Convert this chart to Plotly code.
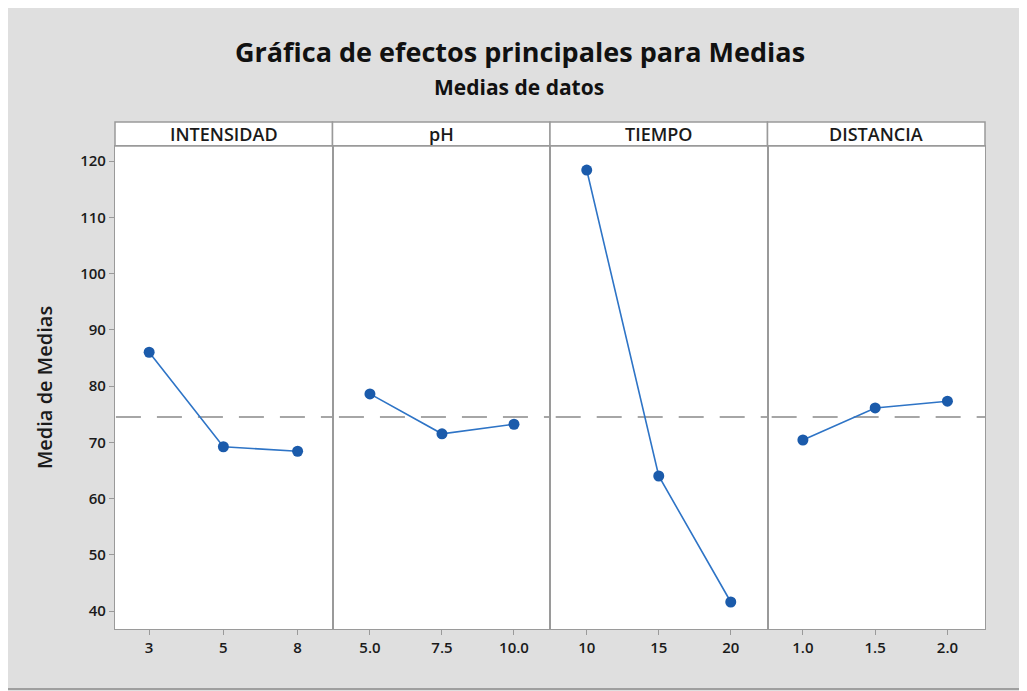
import plotly.graph_objects as go
from plotly.subplots import make_subplots

factors = ["INTENSIDAD", "pH", "TIEMPO", "DISTANCIA"]
levels = [["3", "5", "8"], ["5.0", "7.5", "10.0"], ["10", "15", "20"], ["1.0", "1.5", "2.0"]]
means = [[86.0, 69.2, 68.4], [78.6, 71.5, 73.2], [118.4, 64.0, 41.6], [70.4, 76.1, 77.3]]
grand_mean = 74.5
y_ticks = [40, 50, 60, 70, 80, 90, 100, 110, 120]

W, H = 1027, 691
OFF = 8  # browser body margin
L, R, T, B = 115 - OFF, 985 - OFF, 146 - OFF, 629 - OFF


def px(x):
    return (x - OFF - L) / (R - L)


def py(y):
    return (B - (y - OFF)) / (B - T)


fig = make_subplots(rows=1, cols=4, shared_yaxes=True, horizontal_spacing=0)

line_col = "#2e74c6"
marker_col = "#1b5bab"
axis_col = "#9a9a9a"
tick_font = dict(family="Open Sans", size=15, color="#1a1a1a", weight=600)
x_ranges = [[-0.46, 2.47], [-0.52, 2.5], [-0.51, 2.51], [-0.49, 2.52]]

for i in range(4):
    xs = list(range(len(levels[i])))
    fig.add_trace(go.Scatter(x=[-1, 3], y=[grand_mean, grand_mean], mode="lines",
                             line=dict(color="#a6a6a6", width=2, dash="25px,16px"),
                             showlegend=False, hoverinfo="skip"), row=1, col=i + 1)
    fig.add_trace(go.Scatter(x=xs, y=means[i], mode="lines+markers",
                             line=dict(color=line_col, width=1.6),
                             marker=dict(color=marker_col, size=11, symbol="circle"),
                             showlegend=False, hoverinfo="skip"), row=1, col=i + 1)
    fig.update_xaxes(range=x_ranges[i], tickmode="array", tickvals=xs, ticktext=levels[i],
                     ticks="outside", ticklen=5, tickcolor=axis_col, tickfont=tick_font,
                     showline=True, linecolor=axis_col, linewidth=1.2, mirror=True,
                     showgrid=False, zeroline=False, row=1, col=i + 1)
    fig.update_yaxes(range=[36.8, 122.67], tickvals=y_ticks, showgrid=False, zeroline=False,
                     showline=True, linecolor=axis_col, linewidth=1.2, mirror=True,
                     row=1, col=i + 1)

fig.update_yaxes(ticks="outside", ticklen=5, tickcolor=axis_col, tickfont=tick_font, row=1, col=1)
fig.update_yaxes(title=dict(text="Media de Medias",
                            font=dict(family="Open Sans", size=20, color="#1a1a1a", weight=600),
                            standoff=22), row=1, col=1)

shapes = []
# outer frame border
shapes.append(dict(type="rect", xref="paper", yref="paper", layer="above",
                   x0=px(4), x1=px(1023), y0=py(689), y1=py(6),
                   fillcolor="rgba(0,0,0,0)", line=dict(color="#8a8a8a", width=1.5)))
strip_top = 122
bounds = [115, 332.5, 550, 767.5, 985]
annotations = []
for i in range(4):
    shapes.append(dict(type="rect", xref="paper", yref="paper", layer="below",
                       x0=px(bounds[i]), x1=px(bounds[i + 1]), y0=py(146), y1=py(strip_top),
                       fillcolor="white", line=dict(color=axis_col, width=1.5)))
    annotations.append(dict(text=factors[i], xref="paper", yref="paper",
                            x=(px(bounds[i]) + px(bounds[i + 1])) / 2, y=py(134),
                            showarrow=False, xanchor="center", yanchor="middle",
                            font=dict(family="Open Sans", size=18, color="#1a1a1a", weight=600)))

annotations.append(dict(text="Gráfica de efectos principales para Medias", xref="paper", yref="paper",
                        x=px(520), y=py(52), showarrow=False, xanchor="center", yanchor="middle",
                        font=dict(family="Open Sans", size=27, color="#111111", weight="bold")))
annotations.append(dict(text="Medias de datos", xref="paper", yref="paper",
                        x=px(519), y=py(87), showarrow=False, xanchor="center", yanchor="middle",
                        font=dict(family="Open Sans", size=21, color="#111111", weight="bold")))

fig.update_layout(width=W, height=H, margin=dict(l=L, r=W - R, t=T, b=H - B, autoexpand=False),
                  paper_bgcolor="#dfdfdf", plot_bgcolor="white",
                  shapes=shapes, annotations=annotations)

fig.write_html("out.html")
